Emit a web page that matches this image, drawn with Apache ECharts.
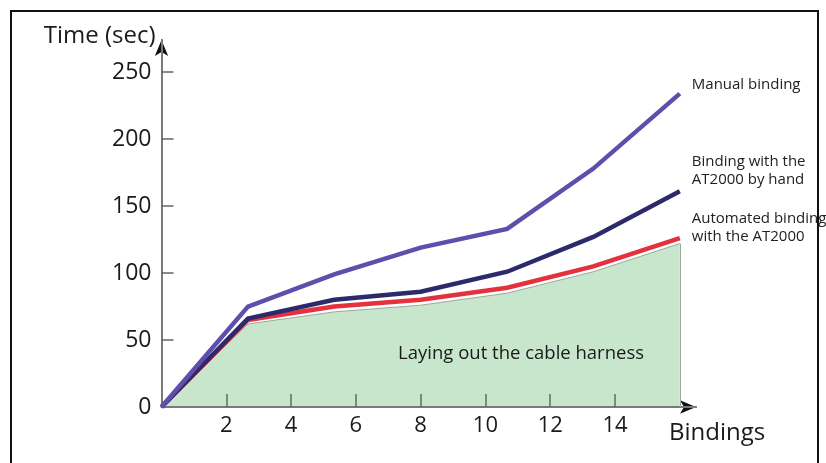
<!DOCTYPE html>
<html>
<head>
<meta charset="utf-8">
<script src="https://cdn.jsdelivr.net/npm/echarts@6/dist/echarts.min.js"></script>
<style>
html,body{margin:0;padding:0;background:#fff;}
#chart{position:absolute;left:0;top:0;width:826px;height:463px;}
#frame{position:absolute;left:10px;top:10px;width:805px;height:470px;border:2px solid #111;pointer-events:none;}
</style>
</head>
<body>
<div id="chart"></div>
<div id="frame"></div>
<script>
// Data
const bindings = [0, 2.67, 5.33, 8, 10.67, 13.33, 16];
const manual = [0, 75, 99, 119, 133, 178, 234];
const atByHand = [0, 66, 80, 86, 101, 127, 161];
const automated = [0, 65, 75, 80, 89, 105, 126];
const layingOut = [0, 62, 71, 76, 85, 101, 122];
const xTickLabels = [2, 4, 6, 8, 10, 12, 14];
const yTickLabels = [0, 50, 100, 150, 200, 250];

const seriesNames = ['Manual binding', 'Binding with the\nAT2000 by hand', 'Automated binding\nwith the AT2000'];
const areaLabel = 'Laying out the cable harness';

const pairs = arr => bindings.map((x, i) => [x, arr[i]]);
const FONT = 'Open Sans';
const X_MAX = 16.5, Y_MAX = 274;

const chart = echarts.init(document.getElementById('chart'), null, {renderer: 'canvas'});

function lineSeries(name, data, color, offY) {
  return {
    type: 'line', name: name, data: pairs(data), symbol: 'none', z: 5,
    lineStyle: {color: color, width: 4.5, join: 'miter'},
    endLabel: {show: true, formatter: name, color: '#222', fontFamily: FONT, fontSize: 15,
      lineHeight: 18, align: 'left', distance: 12, offset: [0, offY]}
  };
}

// arrow-only axes (black arrow heads) drawn underneath the grey axis lines
const arrowAxis = (pos) => ({
  type: 'value', min: 0, max: pos === 'bottom' ? X_MAX : Y_MAX, position: pos, offset: 0, z: 3,
  axisLine: {show: true, onZero: false, lineStyle: {color: '#111', width: 1.5}, symbol: ['none', 'arrow'], symbolSize: [10, 16]},
  axisTick: {show: false}, axisLabel: {show: false}, splitLine: {show: false}
});

chart.setOption({
  animation: false,
  grid: {left: 161.5, right: 130, top: 40, bottom: 56},
  xAxis: [{
    type: 'value', min: 0, max: X_MAX, interval: 2, z: 4,
    name: 'Bindings', nameLocation: 'end', nameGap: -27,
    nameTextStyle: {color: '#1a1a1a', fontFamily: FONT, fontSize: 24, align: 'left', verticalAlign: 'top', padding: [14, 0, 0, 0]},
    axisLine: {show: true, lineStyle: {color: '#7a7a7a', width: 2}, symbol: 'none'},
    axisTick: {show: true, inside: true, length: 13, lineStyle: {color: '#5f6f60', width: 1.5}, customValues: xTickLabels},
    axisLabel: {color: '#1a1a1a', fontFamily: FONT, fontSize: 22, margin: 8, customValues: xTickLabels},
    splitLine: {show: false}
  }, arrowAxis('bottom')],
  yAxis: [{
    type: 'value', min: 0, max: Y_MAX, interval: 50, z: 4,
    name: 'Time (sec)', nameLocation: 'end', nameGap: 4,
    nameTextStyle: {color: '#1a1a1a', fontFamily: FONT, fontSize: 24, align: 'right', verticalAlign: 'middle', padding: [0, 6, 0, 0]},
    axisLine: {show: true, lineStyle: {color: '#7a7a7a', width: 2}, symbol: 'none'},
    axisTick: {show: true, inside: true, length: 12, lineStyle: {color: '#666', width: 1.5}, customValues: [50, 100, 150, 200, 250]},
    axisLabel: {color: '#1a1a1a', fontFamily: FONT, fontSize: 23, margin: 10, customValues: yTickLabels},
    splitLine: {show: false}
  }, arrowAxis('left')],
  series: [
    {
      type: 'line', name: areaLabel, data: pairs(layingOut), symbol: 'none', z: 2,
      lineStyle: {color: '#9aa89c', width: 1},
      areaStyle: {color: '#c8e6cb', opacity: 1},
      markLine: {silent: true, symbol: 'none', label: {show: false},
        lineStyle: {color: '#9aa89c', width: 1, type: 'solid'},
        data: [[{coord: [bindings[6], 0]}, {coord: [bindings[6], layingOut[6]]}]]},
      markPoint: {symbol: 'circle', symbolSize: 0, silent: true,
        label: {show: true, formatter: areaLabel, color: '#1a1a1a', fontFamily: FONT, fontSize: 18.5},
        data: [{coord: [11.1, 40]}]}
    },
    lineSeries(seriesNames[2], automated, '#e3323d', -10),
    lineSeries(seriesNames[1], atByHand, '#2d2a6c', -21),
    lineSeries(seriesNames[0], manual, '#5e4fac', -9)
  ]
});
</script>
</body>
</html>
